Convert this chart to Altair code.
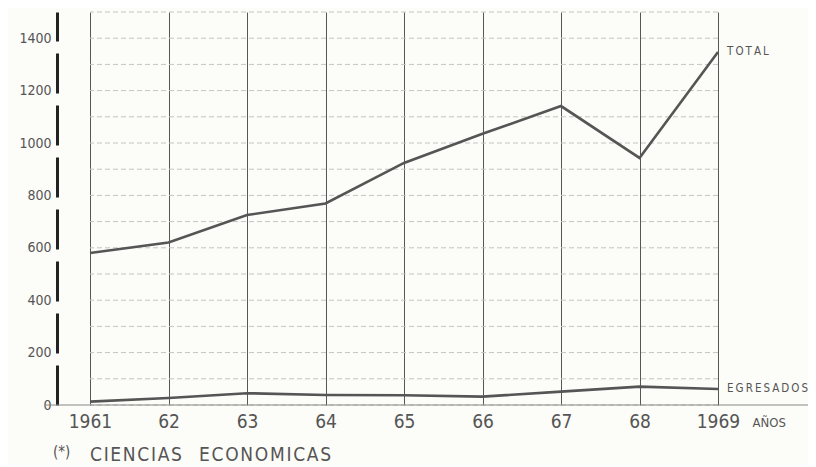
import altair as alt
import pandas as pd

years = [1961, 1962, 1963, 1964, 1965, 1966, 1967, 1968, 1969]
x_labels = ["1961", "62", "63", "64", "65", "66", "67", "68", "1969"]
total = [580, 620, 725, 769, 924, 1035, 1141, 943, 1347]
egresados = [13, 27, 45, 38, 37, 32, 51, 70, 61]
series_names = ["TOTAL", "EGRESADOS"]
y_ticks = [0, 200, 400, 600, 800, 1000, 1200, 1400]
y_grid = [0, 100, 200, 300, 400, 500, 600, 700, 800, 900, 1000, 1100, 1200, 1300, 1400, 1500]
x_title = "AÑOS"
footnote_mark = "(*)"
footnote_words = ["CIENCIAS", "ECONOMICAS"]

FONT = "DejaVu Sans Condensed, Liberation Sans Narrow, sans-serif"
INK = "#555555"

rows = []
for name, vals in zip(series_names, [total, egresados]):
    for yr, v in zip(years, vals):
        rows.append({"year": yr, "value": v, "serie": name,
                     "label": "\u2009".join(name)})
df = pd.DataFrame(rows)
ends = df[df["year"] == years[-1]]

label_expr = "{" + ",".join(f"'{y}':'{l}'" for y, l in zip(years, x_labels)) + "}[datum.value]"

x_scale = alt.Scale(domain=[years[0], years[-1]], nice=False, zero=False)
y_scale = alt.Scale(domain=[0, 1500], nice=False)

x_axis = alt.Axis(
    values=years, labelExpr=label_expr, grid=True, gridColor="#444444",
    gridWidth=0.9, domain=False, ticks=False, labelFontSize=19,
    labelPadding=7, labelColor=INK, labelFont=FONT, labelFlush=False,
    title=x_title, titleFont=FONT, titleFontSize=13, titleColor=INK,
    titleFontWeight="normal", titleX=662, titleY=17, titleAlign="left",
    titleBaseline="middle", titleAngle=0,
)
y_axis = alt.Axis(
    values=y_ticks, format="d", grid=False, domain=True, domainColor="#222222",
    domainWidth=3, domainDash=[40, 12], ticks=False, offset=33,
    labelFontSize=14, labelPadding=6, labelColor=INK, labelFont=FONT,
    title=None,
)

grid_df = pd.DataFrame({"value": y_grid})
hgrid = alt.Chart(grid_df).mark_rule(
    color="#c4c4c4", strokeWidth=1, strokeDash=[5, 3]
).encode(y=alt.Y("value:Q", scale=y_scale, axis=y_axis))

lines = alt.Chart(df).mark_line(color=INK, strokeWidth=2.6).encode(
    x=alt.X("year:Q", scale=x_scale, axis=x_axis),
    y=alt.Y("value:Q", scale=y_scale, axis=y_axis),
    detail="serie:N",
)

baseline = alt.Chart(pd.DataFrame({"value": [0]})).mark_rule(
    color="#888888", strokeWidth=1
).encode(y=alt.Y("value:Q", scale=y_scale, axis=y_axis),
         x=alt.value(-45), x2=alt.value(725))

end_labels = alt.Chart(ends).mark_text(
    align="left", dx=9, font=FONT, fontSize=11.5, color=INK
).encode(
    x=alt.X("year:Q", scale=x_scale, axis=x_axis),
    y=alt.Y("value:Q", scale=y_scale, axis=y_axis),
    text="label:N",
)

note_text = "\u2003".join(["\u200a".join(w) for w in footnote_words])
note_mark = alt.Chart(pd.DataFrame({"t": [footnote_mark]})).mark_text(
    align="left", baseline="middle", font=FONT, fontSize=15, color=INK
).encode(x=alt.value(-37), y=alt.value(440), text="t:N")
note = alt.Chart(pd.DataFrame({"t": [note_text]})).mark_text(
    align="left", baseline="middle", font=FONT, fontSize=19, color=INK
).encode(x=alt.value(0), y=alt.value(443), text="t:N")

chart = alt.layer(hgrid, lines, baseline, end_labels, note_mark, note).properties(
    width=628, height=393,
    autosize=alt.AutoSizeParams(type="none"),
    padding={"left": 82, "top": 4, "right": 90, "bottom": 60},
    background="#fcfcf8",
).configure_view(stroke=None)

chart.save("out.html", embed_options={"renderer": "svg", "actions": False})
